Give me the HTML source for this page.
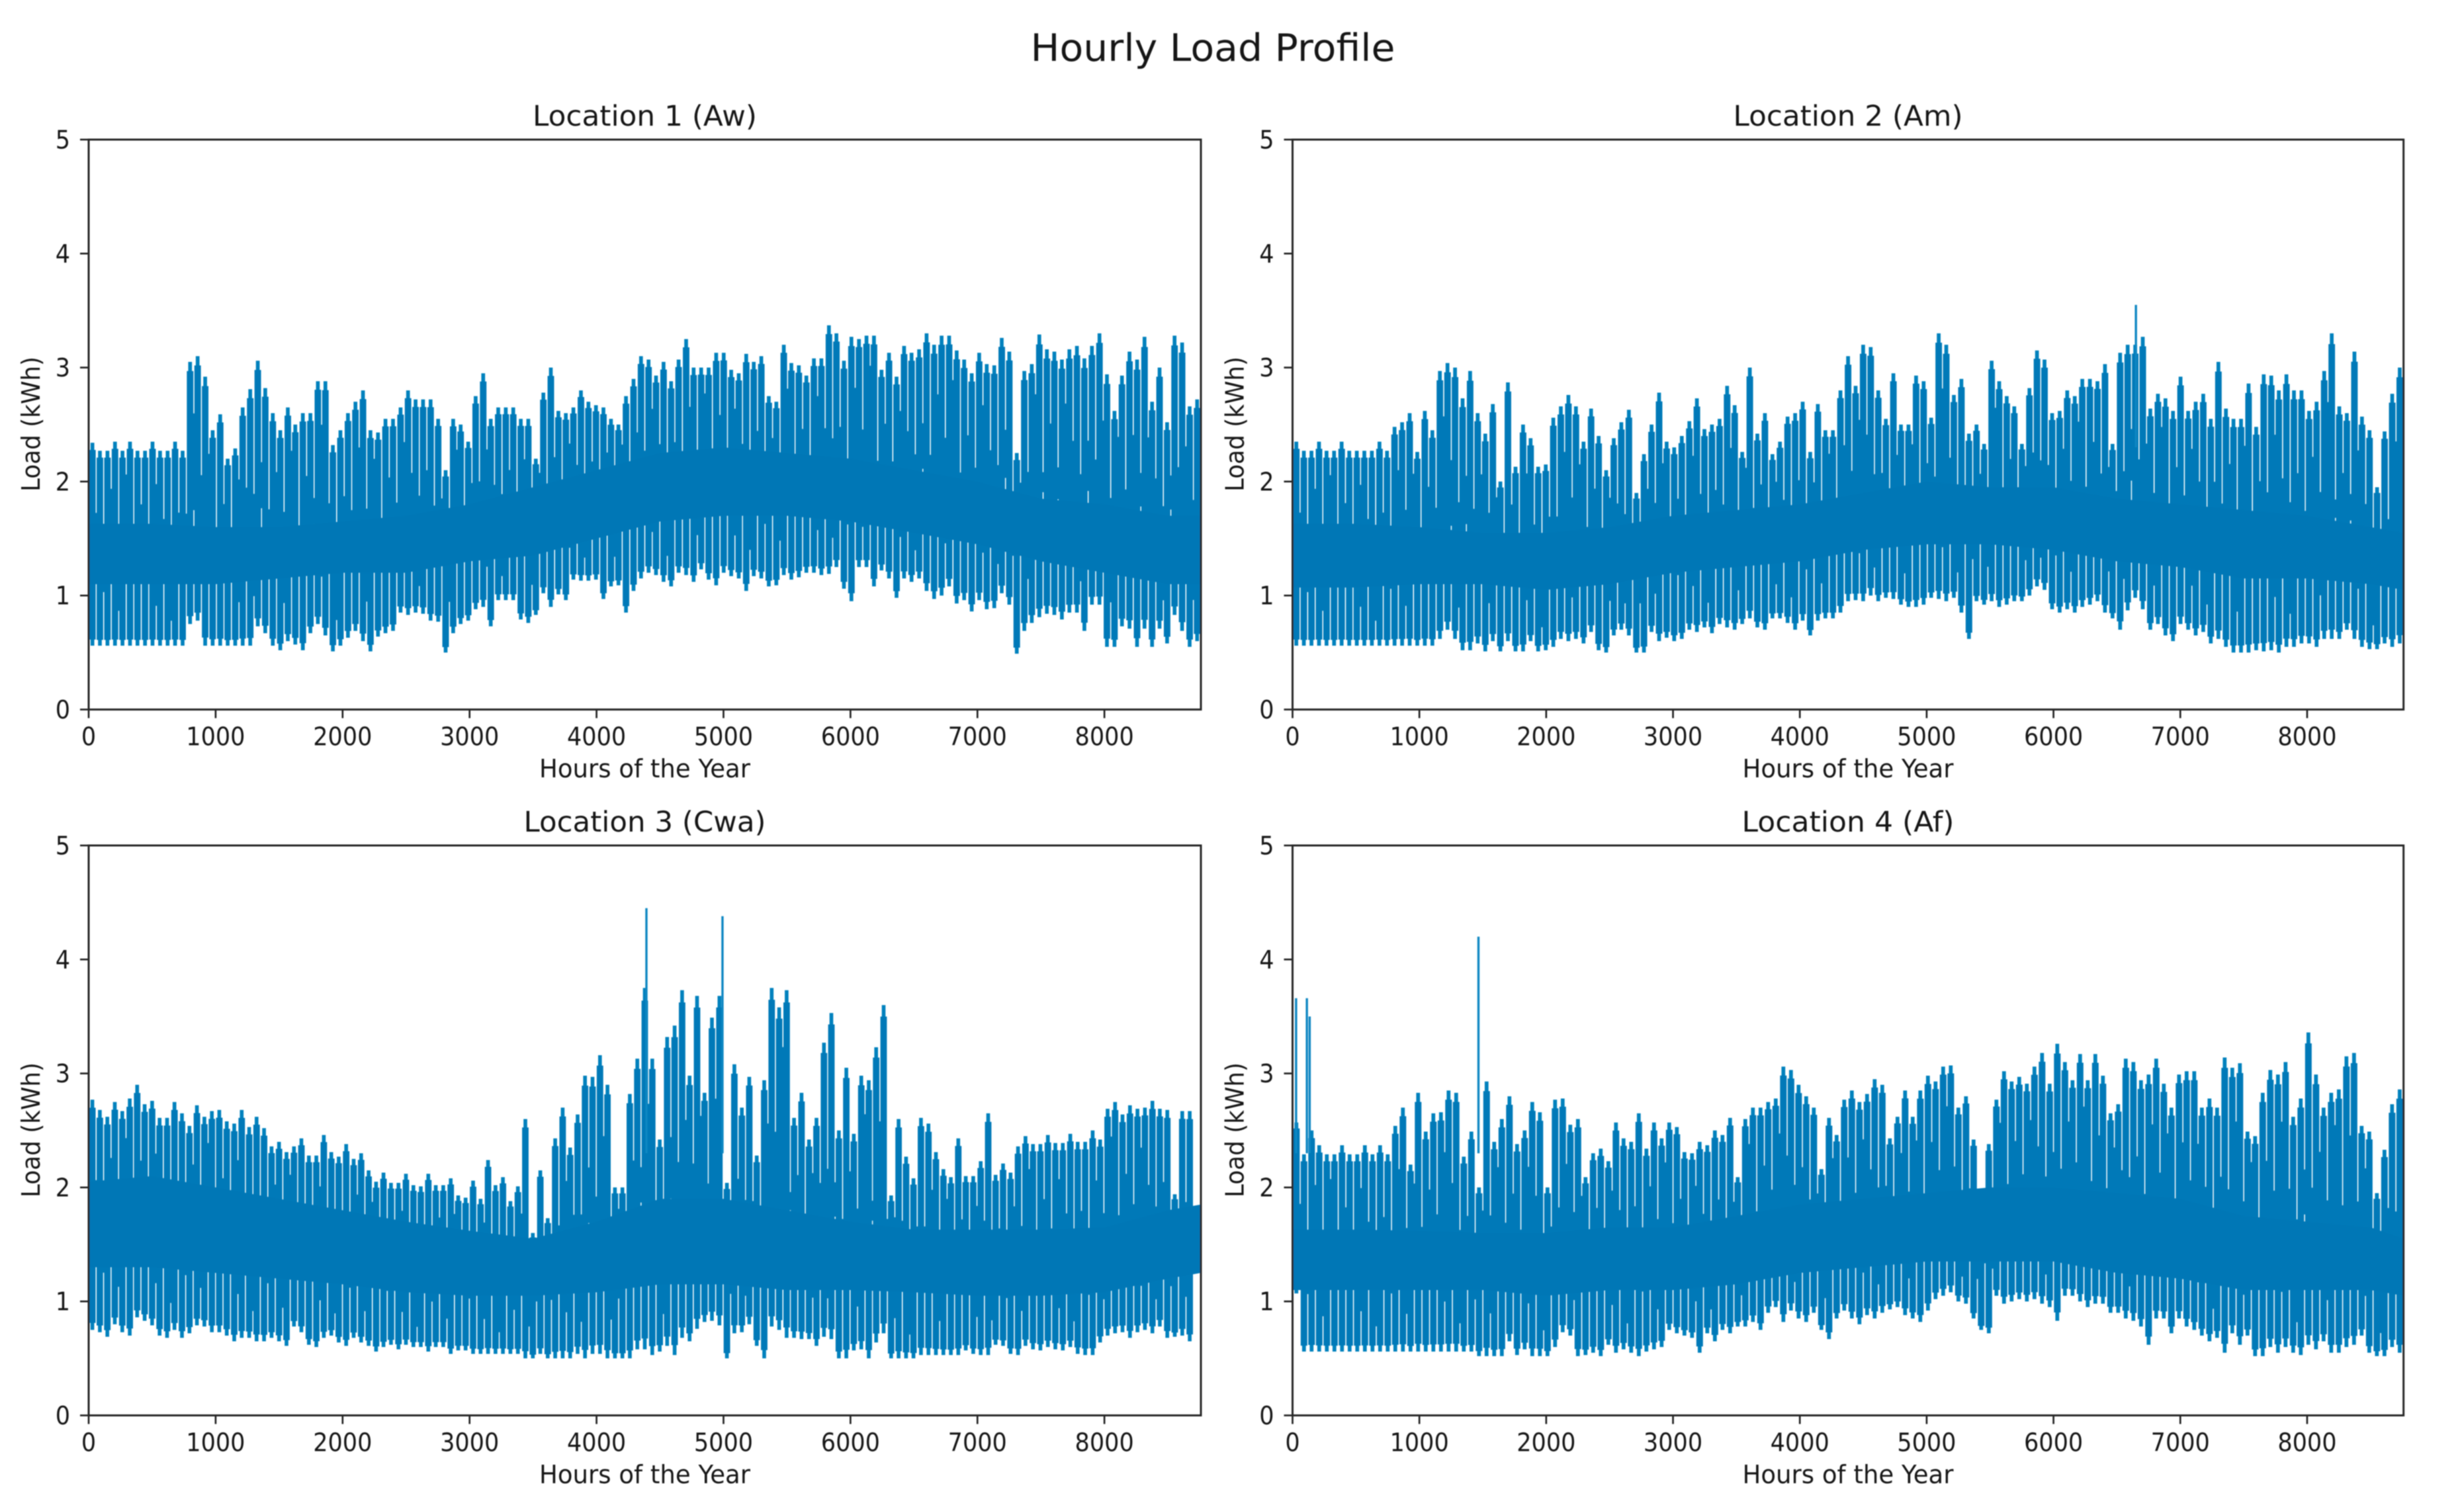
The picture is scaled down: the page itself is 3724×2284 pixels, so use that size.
<!DOCTYPE html>
<html lang="en">
<head>
<meta charset="utf-8">
<title>Hourly Load Profile</title>
<style>
html,body{margin:0;padding:0;background:#fff;width:3724px;height:2284px;overflow:hidden}
svg{display:block}
text{font-family:"DejaVu Sans","Liberation Sans",sans-serif;fill:#141414}
</style>
</head>
<body>
<svg id="chart" xmlns="http://www.w3.org/2000/svg" width="3724" height="2284" viewBox="0 0 3724 2284">
<defs>
<filter id="soft" filterUnits="userSpaceOnUse" x="0" y="0" width="3724" height="2284"><feGaussianBlur stdDeviation="0.75"/></filter>
</defs>
<rect width="3724" height="2284" fill="#fff"/>
<g id="root" filter="url(#soft)">
<text x="1833" y="92" text-anchor="middle" font-size="57" textLength="551" lengthAdjust="spacingAndGlyphs">Hourly Load Profile</text>

<g id="panel-1">
<text x="974.5" y="190" text-anchor="middle" font-size="43" textLength="339" lengthAdjust="spacingAndGlyphs">Location 1 (Aw)</text>
<text x="974.5" y="1175" text-anchor="middle" font-size="38" textLength="319" lengthAdjust="spacingAndGlyphs">Hours of the Year</text>
<text transform="translate(60,641) rotate(-90)" text-anchor="middle" font-size="38" textLength="204" lengthAdjust="spacingAndGlyphs">Load (kWh)</text>
</g>
<g id="panel-2">
<text x="2793" y="190" text-anchor="middle" font-size="43" textLength="347" lengthAdjust="spacingAndGlyphs">Location 2 (Am)</text>
<text x="2793" y="1175" text-anchor="middle" font-size="38" textLength="319" lengthAdjust="spacingAndGlyphs">Hours of the Year</text>
<text transform="translate(1879.5,641) rotate(-90)" text-anchor="middle" font-size="38" textLength="204" lengthAdjust="spacingAndGlyphs">Load (kWh)</text>
</g>
<g id="panel-3">
<text x="974.5" y="1257" text-anchor="middle" font-size="43" textLength="366" lengthAdjust="spacingAndGlyphs">Location 3 (Cwa)</text>
<text x="974.5" y="2242" text-anchor="middle" font-size="38" textLength="319" lengthAdjust="spacingAndGlyphs">Hours of the Year</text>
<text transform="translate(60,1708) rotate(-90)" text-anchor="middle" font-size="38" textLength="204" lengthAdjust="spacingAndGlyphs">Load (kWh)</text>
</g>
<g id="panel-4">
<text x="2793" y="1257" text-anchor="middle" font-size="43" textLength="321" lengthAdjust="spacingAndGlyphs">Location 4 (Af)</text>
<text x="2793" y="2242" text-anchor="middle" font-size="38" textLength="319" lengthAdjust="spacingAndGlyphs">Hours of the Year</text>
<text transform="translate(1879.5,1708) rotate(-90)" text-anchor="middle" font-size="38" textLength="204" lengthAdjust="spacingAndGlyphs">Load (kWh)</text>
</g>
</g>
</svg>
<script>
// ---- tick values ----
const xTickValues = [0,1000,2000,3000,4000,5000,6000,7000,8000];
const yTickValues = [0,1,2,3,4,5];
// ---- hours at which the dense-band edges were read ----
const coreHours = [0,500,1000,1500,2000,2500,3000,3500,4000,4500,5000,5500,6000,6500,7000,7500,8000,8500,8760];

// ---- Location 1 (Aw): highs and lows of successive 60-hour windows, kWh ----
const loc1Peaks = [2.34,2.27,2.27,2.35,2.27,2.35,2.27,2.27,2.35,2.27,2.27,2.35,2.27,3.05,3.1,2.92,2.45,2.59,2.2,2.29,2.65,2.81,3.06,2.82,2.6,2.45,2.65,2.5,2.6,2.6,2.88,2.88,2.32,2.45,2.6,2.7,2.8,2.45,2.43,2.55,2.55,2.65,2.8,2.72,2.72,2.72,2.55,2.1,2.55,2.5,2.35,2.75,2.95,2.55,2.65,2.65,2.65,2.55,2.55,2.2,2.78,3.0,2.62,2.6,2.65,2.8,2.7,2.67,2.65,2.55,2.5,2.75,2.9,3.1,
3.07,2.93,3.05,2.88,3.07,3.25,3.0,3.0,3.0,3.13,3.13,2.98,2.95,3.12,3.05,3.1,2.75,2.7,3.2,3.04,3.02,2.93,3.08,3.08,3.37,3.3,3.06,3.27,3.25,3.28,3.28,2.98,3.13,2.92,3.19,3.13,3.16,3.3,3.2,3.28,3.28,3.15,3.07,2.95,3.13,3.03,3.02,3.26,3.14,2.25,2.97,3.03,3.29,3.16,3.14,3.07,3.16,3.19,3.08,3.19,3.3,2.94,2.62,2.93,3.14,3.07,3.27,2.7,3.0,2.52,3.28,3.22,2.66,2.72];
const loc1Troughs = [.56,.56,.56,.56,.56,.56,.56,.56,.56,.56,.56,.56,.56,.75,.78,.56,.56,.56,.56,.56,.56,.56,.73,.67,.56,.52,.6,.57,.52,.67,.75,.65,.51,.56,.63,.69,.6,.51,.64,.67,.69,.85,.83,.85,.84,.78,.77,.5,.67,.75,.78,.88,.9,.73,.96,.96,.96,.79,.76,.83,1.02,.9,1.01,.96,1.14,1.13,1.13,1.14,.97,1.08,1.09,.85,1.04,1.15,
1.2,1.18,1.12,1.08,1.2,1.18,1.12,1.23,1.14,1.09,1.2,1.17,1.15,1.04,1.17,1.15,1.08,1.09,1.18,1.14,1.16,1.2,1.2,1.18,1.19,1.25,1.06,.95,1.25,1.25,1.08,1.22,1.15,.98,1.15,1.12,1.15,1.04,.97,1.0,1.08,.93,.96,.86,.96,.88,.89,1.02,.92,.49,.69,.76,.81,.84,.83,.79,.85,.85,.69,.92,.92,.55,.55,.73,.71,.55,.71,.55,.71,.58,.83,.69,.55,.6];
const loc1CoreTop = [1.63,1.63,1.6,1.6,1.65,1.7,1.8,1.95,2.1,2.25,2.3,2.25,2.2,2.1,2.0,1.85,1.8,1.7,1.7];
const loc1CoreBottom = [1.1,1.1,1.1,1.15,1.2,1.2,1.3,1.35,1.5,1.65,1.7,1.7,1.65,1.55,1.45,1.3,1.2,1.1,1.1];
const loc1SpikeHours = [];
const loc1SpikeValues = [];

// ---- Location 2 (Am) ----
const loc2Peaks = [2.35,2.27,2.27,2.35,2.27,2.27,2.35,2.27,2.27,2.27,2.27,2.35,2.27,2.48,2.52,2.6,2.26,2.62,2.45,2.97,3.04,3.0,2.73,2.97,2.6,2.42,2.68,2.0,2.87,2.13,2.5,2.38,2.13,2.15,2.56,2.66,2.76,2.66,2.35,2.64,2.4,2.1,2.38,2.52,2.63,1.9,2.24,2.5,2.78,2.35,2.3,2.4,2.53,2.73,2.46,2.5,2.55,2.84,2.67,2.26,3.0,2.42,2.6,2.24,2.35,2.57,2.6,2.7,2.26,2.68,2.45,2.45,2.8,3.1,2.84,3.2,3.18,2.8,2.55,2.95,2.5,2.5,2.93,2.88,2.56,3.3,3.2,2.76,2.9,2.42,2.5,2.33,3.06,2.88,2.75,2.66,2.33,2.82,3.15,3.07,2.6,2.62,2.8,2.75,2.9,2.9,2.88,3.03,2.33,3.13,3.2,3.2,3.27,2.64,2.77,2.73,2.62,2.92,2.62,2.7,2.77,2.55,3.05,2.64,2.55,2.55,2.86,2.48,2.94,2.93,2.8,2.94,2.8,2.8,2.62,2.7,2.97,3.3,2.66,2.6,3.14,2.57,2.45,1.95,2.44,2.77,3.0];
const loc2Troughs = [.56,.56,.56,.56,.56,.56,.56,.56,.56,.56,.56,.56,.56,.56,.56,.56,.56,.56,.56,.62,.7,.62,.52,.52,.58,.51,.6,.51,.6,.51,.51,.6,.51,.52,.55,.62,.6,.62,.58,.68,.52,.5,.65,.7,.65,.5,.5,.68,.6,.63,.6,.62,.7,.68,.72,.67,.75,.72,.7,.75,.8,.72,.7,.8,.8,.76,.7,.78,.65,.78,.8,.8,.85,.95,.96,.95,1.0,.95,.98,.97,.92,.9,.9,.92,.98,.97,.95,.98,.85,.62,.95,.92,.95,.9,.92,.95,.95,1.0,1.08,1.05,.88,.85,.88,.85,.9,.92,.95,.85,.8,.7,.87,.98,.88,.7,.75,.65,.6,.75,.7,.65,.68,.58,.62,.55,.5,.5,.5,.52,.51,.52,.5,.55,.55,.58,.58,.55,.62,.62,.62,.7,.62,.55,.53,.53,.58,.55,.58];
const loc2CoreTop = [1.63,1.63,1.6,1.55,1.55,1.6,1.7,1.75,1.8,1.9,2.0,1.95,1.95,1.85,1.8,1.75,1.7,1.6,1.55];
const loc2CoreBottom = [1.07,1.07,1.1,1.1,1.05,1.1,1.2,1.25,1.3,1.4,1.45,1.45,1.4,1.3,1.25,1.15,1.15,1.1,1.05];
const loc2SpikeHours = [6650];
const loc2SpikeValues = [3.55];

// ---- Location 3 (Cwa) ----
const loc3Peaks = [2.77,2.68,2.62,2.75,2.67,2.78,2.9,2.73,2.76,2.61,2.61,2.75,2.65,2.54,2.72,2.62,2.67,2.68,2.58,2.56,2.68,2.53,2.62,2.52,2.36,2.4,2.31,2.36,2.43,2.28,2.28,2.46,2.31,2.27,2.38,2.25,2.3,2.15,2.05,2.13,2.04,2.04,2.12,2.02,2.01,2.12,2.02,2.02,2.08,1.93,1.91,2.06,1.9,2.24,2.02,2.09,1.88,2.01,2.6,1.6,2.15,1.73,2.43,2.7,2.35,2.64,2.98,2.97,3.16,2.9,2.0,2.0,2.82,3.13,3.75,
3.13,2.42,3.32,3.42,3.73,2.98,3.68,2.83,3.49,3.68,2.04,3.08,2.7,2.97,2.28,2.94,3.75,3.58,3.73,2.61,2.83,2.42,2.61,3.27,3.53,2.5,3.05,2.47,2.98,2.94,3.23,3.6,1.93,2.6,2.27,2.08,2.61,2.56,2.31,2.16,2.09,2.43,2.1,2.1,2.23,2.65,2.11,2.21,2.13,2.36,2.45,2.38,2.38,2.46,2.39,2.39,2.47,2.4,2.4,2.5,2.42,2.69,2.75,2.64,2.72,2.69,2.7,2.76,2.69,2.68,1.94,2.67,2.67,2.75];
const loc3Troughs = [.75,.73,.69,.8,.73,.7,.86,.83,.79,.7,.68,.75,.68,.72,.79,.78,.73,.73,.7,.65,.68,.68,.65,.65,.68,.65,.61,.78,.73,.62,.6,.68,.7,.64,.61,.68,.64,.61,.56,.6,.62,.58,.62,.6,.6,.56,.6,.6,.54,.57,.57,.54,.54,.54,.54,.54,.54,.54,.5,.5,.54,.5,.5,.5,.5,.54,.5,.54,.54,.5,.5,.5,.5,.58,.58,
.53,.56,.61,.53,.68,.65,.76,.82,.83,.79,.5,.72,.73,.8,.61,.5,.78,.75,.68,.68,.67,.67,.61,.69,.67,.5,.5,.57,.58,.5,.64,.72,.5,.5,.5,.5,.53,.53,.53,.53,.53,.53,.57,.54,.53,.53,.62,.61,.54,.53,.61,.58,.57,.6,.58,.57,.6,.54,.53,.53,.64,.7,.72,.73,.68,.73,.75,.72,.78,.68,.69,.7,.65];
const loc3CoreTop = [2.05,2.1,2.0,1.9,1.8,1.7,1.62,1.55,1.7,1.9,1.9,1.8,1.7,1.63,1.63,1.63,1.65,1.8,1.85];
const loc3CoreBottom = [1.3,1.3,1.25,1.2,1.15,1.08,1.05,1.05,1.08,1.15,1.15,1.1,1.1,1.08,1.05,1.05,1.08,1.2,1.25];
const loc3SpikeHours = [4393,4992];
const loc3SpikeValues = [4.45,4.38];

// ---- Location 4 (Af) ----
const loc4Peaks = [2.57,2.29,2.5,2.37,2.29,2.29,2.37,2.29,2.29,2.37,2.29,2.37,2.29,2.54,2.7,2.2,2.83,2.49,2.65,2.66,2.85,2.83,2.27,2.49,2.0,2.93,2.4,2.6,2.8,2.38,2.5,2.75,2.66,2.0,2.77,2.78,2.55,2.6,2.09,2.3,2.34,2.23,2.57,2.43,2.4,2.65,2.34,2.57,2.43,2.57,2.53,2.31,2.3,2.4,2.37,2.5,2.46,2.61,2.09,2.6,2.7,2.7,2.75,2.78,3.06,3.03,2.9,2.8,2.7,2.16,2.61,2.46,2.77,2.85,2.75,2.82,2.95,2.9,2.43,2.62,2.85,2.62,2.85,2.98,2.93,3.06,3.07,2.7,2.8,2.42,1.9,2.38,2.77,3.02,2.93,2.97,2.91,3.06,3.18,2.91,3.26,3.1,2.94,3.17,2.94,3.17,2.98,2.65,2.73,3.13,3.1,2.94,2.99,3.13,2.91,2.7,2.99,3.02,3.02,2.7,2.78,2.7,3.14,3.05,3.09,2.49,2.45,2.83,3.03,2.99,3.1,2.62,2.78,3.36,2.99,2.7,2.83,2.86,3.15,3.18,2.54,2.49,1.95,2.33,2.73,2.86];
const loc4Troughs = [1.07,.56,.56,.56,.56,.56,.56,.56,.56,.56,.56,.56,.56,.56,.56,.56,.56,.56,.56,.56,.56,.56,.56,.56,.52,.52,.52,.52,.65,.53,.58,.52,.52,.52,.6,.73,.7,.52,.53,.55,.52,.62,.55,.58,.55,.52,.56,.58,.6,.75,.72,.7,.68,.55,.72,.65,.75,.72,.78,.78,.82,.75,.9,.95,.82,.92,.85,.82,.9,.75,.67,.85,.92,.85,.8,.88,.85,.9,.93,.95,.88,.85,.82,.92,1.02,1.05,1.08,1.0,.98,.85,.75,.72,1.05,.98,1.0,1.02,1.0,1.02,.98,.95,.83,1.05,1.05,1.0,.95,.98,.98,.9,.9,.85,.83,.78,.62,.85,.85,.72,.85,.78,.75,.7,.65,.68,.55,.72,.62,.7,.52,.52,.6,.55,.6,.55,.53,.62,.58,.65,.55,.55,.6,.62,.7,.55,.52,.52,.6,.55,.6];
const loc4CoreTop = [1.63,1.63,1.62,1.6,1.6,1.65,1.65,1.75,1.85,1.9,1.95,2.0,2.0,1.95,1.9,1.75,1.7,1.65,1.55];
const loc4CoreBottom = [1.1,1.1,1.1,1.1,1.05,1.1,1.1,1.15,1.25,1.3,1.35,1.35,1.35,1.25,1.2,1.1,1.1,1.1,1.05];
const loc4SpikeHours = [28,113,135,1466];
const loc4SpikeValues = [3.66,3.66,3.5,4.2];

const hourMax = 8760;
const yMax = 5;
const NS = 'http://www.w3.org/2000/svg';
const seriesColor = '#0079b8';
// how far the thin light gaps between neighbouring windows stop short of their tops (styling only)
const gapReach = [.35,.1,.6,.2,.75,.05,.45,.15,.65,.3,.1];

function svgEl(tag, attrs, parent) {
  const el = document.createElementNS(NS, tag);
  for (const k in attrs) el.setAttribute(k, attrs[k]);
  parent.appendChild(el);
  return el;
}

function drawPanel(panelId, label, left, right, top, bottom, peaks, troughs, coreTop, coreBottom, spikeHours, spikeValues) {
  const g = document.getElementById(panelId);
  const xScale = h => left + (right - left) * h / hourMax;
  const yScale = v => bottom - (bottom - top) * v / yMax;

  const clip = svgEl('clipPath', {id: panelId + '-clip'}, g);
  svgEl('rect', {x: left, y: top, width: right - left, height: bottom - top}, clip);

  const plot = svgEl('g', {'clip-path': 'url(#' + panelId + '-clip)'}, g);
  
  

  const n = peaks.length;
  const step = hourMax / n;
  const stepPx = xScale(step) - xScale(0);
  let tips = '', shoulders = '', webs = '';
  peaks.forEach((p, i) => {
    const t = troughs[i];
    const x = xScale((i + 0.5) * step).toFixed(1);
    tips += 'M' + x + ' ' + yScale(t).toFixed(1) + 'V' + yScale(p).toFixed(1);
    const shoulderTop = p - 0.035 * (p - t);
    const shoulderBottom = t + 0.03 * (p - t);
    shoulders += 'M' + x + ' ' + yScale(shoulderBottom).toFixed(1) + 'V' + yScale(shoulderTop).toFixed(1);
    if (i < n - 1) {
      const pn = peaks[i + 1], tn = troughs[i + 1];
      const mid = (p + t + pn + tn) / 4;
      const hi = mid + gapReach[i % gapReach.length] * (Math.min(p, pn) - mid);
      const lo = mid - gapReach[(i + 5) % gapReach.length] * (mid - Math.max(t, tn));
      const xb = xScale((i + 1) * step).toFixed(1);
      webs += 'M' + xb + ' ' + yScale(lo).toFixed(1) + 'V' + yScale(hi).toFixed(1);
    }
  });
  const tipPath = svgEl('path', {d: tips, fill: 'none', stroke: '#0681bd', 'stroke-width': stepPx * 0.5}, plot);
  
  
  const shoulderPath = svgEl('path', {d: shoulders, fill: 'none', stroke: seriesColor, 'stroke-width': stepPx * 0.87}, plot);
  
  
  const webPath = svgEl('path', {d: webs, fill: 'none', stroke: seriesColor, 'stroke-width': 3.2}, plot);
  
  

  spikeHours.forEach((h, i) => {
    const spike = svgEl('line', {x1: xScale(h), x2: xScale(h), y1: yScale(2.3), y2: yScale(spikeValues[i]), stroke: '#0a86c2', 'stroke-width': 3.4}, plot);
    
    
  });

  let pts = coreHours.map((h, i) => xScale(h).toFixed(1) + ',' + yScale(coreTop[i]).toFixed(1));
  for (let i = coreHours.length - 1; i >= 0; i--) {
    pts.push(xScale(coreHours[i]).toFixed(1) + ',' + yScale(coreBottom[i]).toFixed(1));
  }
  const band = svgEl('polygon', {points: pts.join(' '), fill: '#0077b6'}, plot);
  
  

  const tickColor = '#1c1c1c';
  xTickValues.forEach(t => {
    const x = xScale(t);
    const tick = svgEl('line', {x1: x, x2: x, y1: bottom, y2: bottom + 13, stroke: tickColor, 'stroke-width': 2.6}, g);
    
    
    const txt = String(t);
    const lab = svgEl('text', {x: x, y: bottom + 54, 'text-anchor': 'middle', 'font-size': 38, textLength: txt.length * 22.3, lengthAdjust: 'spacingAndGlyphs'}, g);
    lab.textContent = txt;
    
    
  });
  yTickValues.forEach(t => {
    const y = yScale(t);
    const tick = svgEl('line', {x1: left - 13, x2: left, y1: y, y2: y, stroke: tickColor, 'stroke-width': 2.6}, g);
    
    
    const lab = svgEl('text', {x: left - 28, y: y + 13.5, 'text-anchor': 'end', 'font-size': 38, textLength: 22.3, lengthAdjust: 'spacingAndGlyphs'}, g);
    lab.textContent = String(t);
    
    
  });

  const frame = svgEl('rect', {x: left, y: top, width: right - left, height: bottom - top, fill: 'none', stroke: '#262626', 'stroke-width': 3}, g);
  
  
}

drawPanel('panel-1', 'location-1', 134, 1815, 211, 1072.5, loc1Peaks, loc1Troughs, loc1CoreTop, loc1CoreBottom, loc1SpikeHours, loc1SpikeValues);
drawPanel('panel-2', 'location-2', 1953.5, 3632.6, 211, 1072.5, loc2Peaks, loc2Troughs, loc2CoreTop, loc2CoreBottom, loc2SpikeHours, loc2SpikeValues);
drawPanel('panel-3', 'location-3', 134, 1815, 1278, 2139.5, loc3Peaks, loc3Troughs, loc3CoreTop, loc3CoreBottom, loc3SpikeHours, loc3SpikeValues);
drawPanel('panel-4', 'location-4', 1953.5, 3632.6, 1278, 2139.5, loc4Peaks, loc4Troughs, loc4CoreTop, loc4CoreBottom, loc4SpikeHours, loc4SpikeValues);
</script>
</body>
</html>
